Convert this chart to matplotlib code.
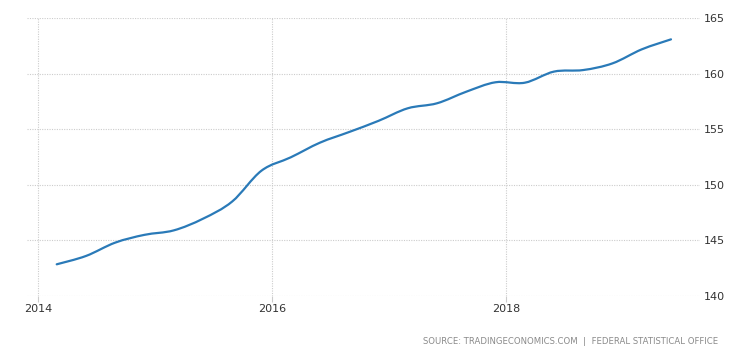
import matplotlib
matplotlib.use("Agg")
import matplotlib.pyplot as plt
from matplotlib.path import Path
from matplotlib.patches import PathPatch
import numpy as np

# Quarterly values, Q1 2014 .. Q2 2019
periods = [2014.16 + 0.25 * i for i in range(22)]
values = [142.85, 143.6, 144.8, 145.5, 145.9, 146.95, 148.5, 151.27,
          152.47, 153.79, 154.75, 155.75, 156.88, 157.33, 158.37, 159.22,
          159.18, 160.18, 160.32, 160.92, 162.18, 163.08]
x_ticks = [2014, 2016, 2018]
x_tick_labels = ["2014", "2016", "2018"]
y_ticks = [140, 145, 150, 155, 160, 165]
source_text = "SOURCE: TRADINGECONOMICS.COM  |  FEDERAL STATISTICAL OFFICE"

fig = plt.figure(figsize=(7.54, 3.55), dpi=100)
W, H = 754, 355
ax = fig.add_axes([27 / W, 1 - 296 / H, (700 - 27) / W, (296 - 18) / H])

# smooth spline-style rendering (cubic Bezier segments through every data point)
px = np.asarray(periods)
py = np.asarray(values)
n = len(px)
verts = [(px[0], py[0])]
codes = [Path.MOVETO]
t = 1 / 6
for i in range(n - 1):
    p0 = i - 1 if i > 0 else i
    p3 = i + 2 if i + 2 < n else i + 1
    c1 = (px[i] + (px[i + 1] - px[p0]) * t, py[i] + (py[i + 1] - py[p0]) * t)
    c2 = (px[i + 1] - (px[p3] - px[i]) * t, py[i + 1] - (py[p3] - py[i]) * t)
    verts += [c1, c2, (px[i + 1], py[i + 1])]
    codes += [Path.CURVE4] * 3
ax.add_patch(PathPatch(Path(verts, codes), facecolor="none", edgecolor="#2a7ab8",
                       lw=1.6, capstyle="round", joinstyle="round", zorder=3))

ax.set_xlim(2013.906, 2019.658)
ax.set_ylim(140, 165)
ax.set_xticks(x_ticks)
ax.set_xticklabels(x_tick_labels)
ax.set_yticks(y_ticks)
ax.yaxis.tick_right()

for s in ax.spines.values():
    s.set_visible(False)

ax.grid(True, color="#cccccc", linestyle=(0, (1, 1.2)), linewidth=0.8, zorder=0)
ax.tick_params(axis="x", length=4, color="#cccccc", width=0.8, pad=2,
               labelsize=8, labelcolor="#333333")
ax.tick_params(axis="y", length=0, pad=3, labelsize=8, labelcolor="#333333")

fig.text(718 / W, 1 - 341 / H, source_text, ha="right", va="center",
         fontsize=6.1, color="#8a8a8a")

fig.savefig("out.png", dpi=100)
